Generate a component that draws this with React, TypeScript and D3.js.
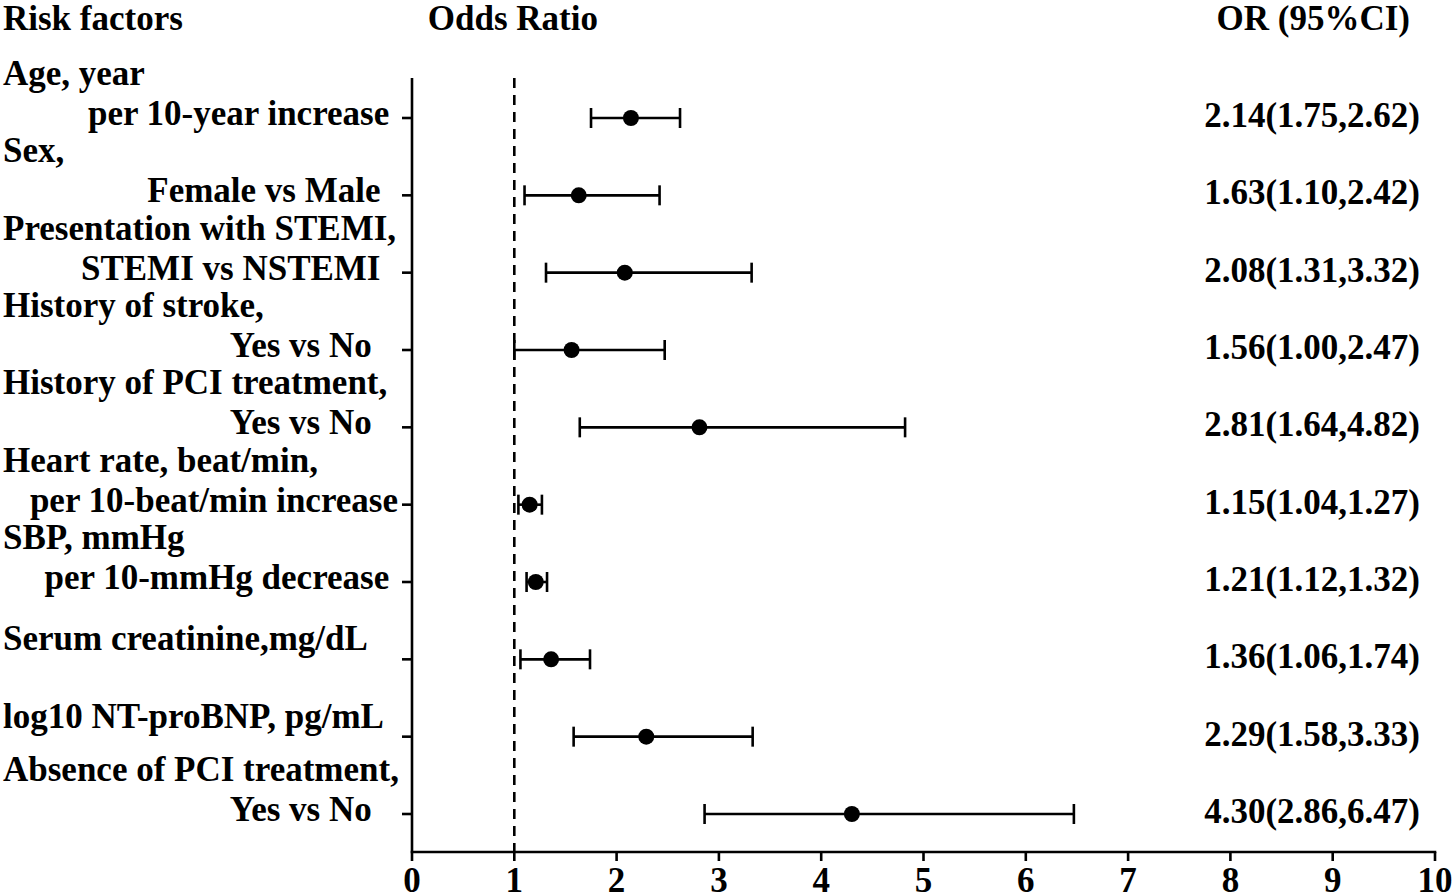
import React from "react";
import * as d3 from "d3";

const headers = [
  "Age, year",
  "Sex,",
  "Presentation with STEMI,",
  "History of stroke,",
  "History of PCI treatment,",
  "Heart rate, beat/min,",
  "SBP, mmHg",
  "Serum creatinine,mg/dL",
  "log10 NT-proBNP, pg/mL",
  "Absence of PCI treatment,",
];
const subLabels = [
  "per 10-year increase ",
  "Female vs Male  ",
  "STEMI vs NSTEMI  ",
  "Yes vs No   ",
  "Yes vs No   ",
  "per 10-beat/min increase",
  "per 10-mmHg decrease ",
  "",
  "",
  "Yes vs No   ",
];
const orValues = [2.14, 1.63, 2.08, 1.56, 2.81, 1.15, 1.21, 1.36, 2.29, 4.3];
const lowerCI = [1.75, 1.1, 1.31, 1.0, 1.64, 1.04, 1.12, 1.06, 1.58, 2.86];
const upperCI = [2.62, 2.42, 3.32, 2.47, 4.82, 1.27, 1.32, 1.74, 3.33, 6.47];
const ciLabels = [
  "2.14(1.75,2.62)",
  "1.63(1.10,2.42)",
  "2.08(1.31,3.32)",
  "1.56(1.00,2.47)",
  "2.81(1.64,4.82)",
  "1.15(1.04,1.27)",
  "1.21(1.12,1.32)",
  "1.36(1.06,1.74)",
  "2.29(1.58,3.33)",
  "4.30(2.86,6.47)",
];
const xTicks = [0, 1, 2, 3, 4, 5, 6, 7, 8, 9, 10];

const W = 1455;
const H = 896;
const font = "'Liberation Serif', 'Times New Roman', serif";

export default function App() {
  const x = d3.scaleLinear().domain([0, 10]).range([412, 1435]);
  const y = d3
    .scaleLinear()
    .domain([0, orValues.length - 1])
    .range([118, 814]);
  const axisTop = 78;
  const axisBottom = 852;
  const fs = 35;
  const sw = 2.6;

  return (
    <svg
      width={W}
      height={H}
      style={{ position: "fixed", left: 0, top: 0, background: "#fff" }}
      fontFamily={font}
      fontWeight="bold"
    >
      <rect width={W} height={H} fill="#fff" />
      <text x={3} y={30} fontSize={fs}>Risk factors</text>
      <text x={598} y={30} fontSize={fs} textAnchor="end">Odds Ratio</text>
      <text x={1410} y={30} fontSize={fs} textAnchor="end">OR (95%CI)</text>

      <line x1={x(0)} x2={x(0)} y1={axisTop} y2={axisBottom} stroke="#000" strokeWidth={sw} />
      <line
        x1={x(1)}
        x2={x(1)}
        y1={axisTop}
        y2={axisBottom}
        stroke="#000"
        strokeWidth={sw}
        strokeDasharray="10,7"
      />
      <line x1={x(0) - sw / 2} x2={x(10) + sw / 2} y1={axisBottom} y2={axisBottom} stroke="#000" strokeWidth={sw} />
      {xTicks.map((t) => (
        <g key={t}>
          <line x1={x(t)} x2={x(t)} y1={axisBottom} y2={axisBottom + 9} stroke="#000" strokeWidth={sw} />
          <text x={x(t)} y={axisBottom + 40} fontSize={fs} textAnchor="middle">
            {t}
          </text>
        </g>
      ))}

      {orValues.map((v, i) => {
        const yy = y(i);
        const single = subLabels[i] === "";
        return (
          <g key={i}>
            <line x1={x(0) - 10} x2={x(0)} y1={yy} y2={yy} stroke="#000" strokeWidth={sw} />
            {single ? (
              <text x={3} y={yy - 9} fontSize={fs}>{headers[i]}</text>
            ) : (
              <>
                <text x={3} y={yy - 33} fontSize={fs}>{headers[i]}</text>
                <text
                  x={398}
                  y={yy + 7}
                  fontSize={fs}
                  textAnchor="end"
                  style={{ whiteSpace: "pre" }}
                >
                  {subLabels[i]}
                </text>
              </>
            )}
            <line x1={x(lowerCI[i])} x2={x(upperCI[i])} y1={yy} y2={yy} stroke="#000" strokeWidth={sw} />
            <line x1={x(lowerCI[i])} x2={x(lowerCI[i])} y1={yy - 10} y2={yy + 10} stroke="#000" strokeWidth={sw} />
            <line x1={x(upperCI[i])} x2={x(upperCI[i])} y1={yy - 10} y2={yy + 10} stroke="#000" strokeWidth={sw} />
            <circle cx={x(v)} cy={yy} r={8} fill="#000" />
            <text x={1420} y={yy + 9} fontSize={fs} textAnchor="end">
              {ciLabels[i]}
            </text>
          </g>
        );
      })}
    </svg>
  );
}
